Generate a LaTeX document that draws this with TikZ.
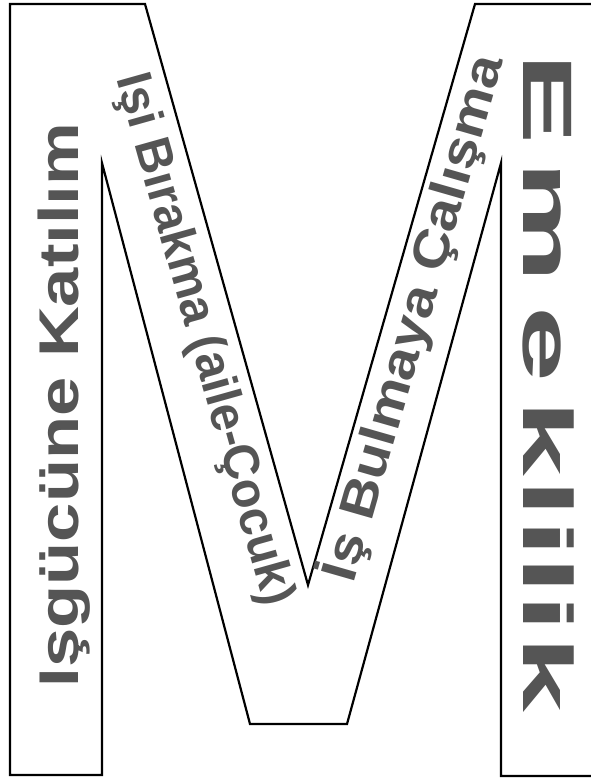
\documentclass[tikz,border=0pt]{standalone}
\usepackage{fontspec}
\setmainfont{Liberation Sans}
\usepackage{graphicx}
\definecolor{wordgray}{RGB}{85,85,85}

\begin{document}
\begin{tikzpicture}[x=1pt,y=-1pt,
  word/.style={text=wordgray,font=\bfseries,inner sep=0pt}]
  \useasboundingbox (0,0) rectangle (590,778);
  % the M outline
  \draw[line width=2.2pt,line join=miter] (598,4) -- (475,4) -- (308,585) -- (145,4) -- (10,4)
    -- (10,775) -- (102,775) -- (102,163) -- (250,724) -- (347,724) -- (501,163) -- (501,776) -- (598,776);
  % left bar
  \node[word,rotate=90,anchor=base] (katilim) at (78,405)
    {\fontsize{56}{60}\selectfont\scalebox{1.26}[1]{Işgücüne Katılım}};
  % left diagonal
  \node[word,rotate=-74.3] (birakma) at (203,340)
    {\fontsize{50}{56}\selectfont\scalebox{0.97}[1]{Işi Bırakma (aile-Çocuk)}};
  % right diagonal
  \node[word,rotate=74] (bulmaya) at (413,318)
    {\fontsize{50}{56}\selectfont\scalebox{1.16}[1]{İş Bulmaya Çalışma}};
  % right bar, one letter at a time
  \foreach \ch/\y [count=\i] in {E/99,m/222,e/344,k/438,l/498,i/538,l/575,i/613,k/674}
    \node[word,rotate=-90,anchor=base] (emek\i) at (523,\y)
      {\fontsize{70}{76}\selectfont\scalebox{1.95}[1]{\ch}};
\end{tikzpicture}
\end{document}
